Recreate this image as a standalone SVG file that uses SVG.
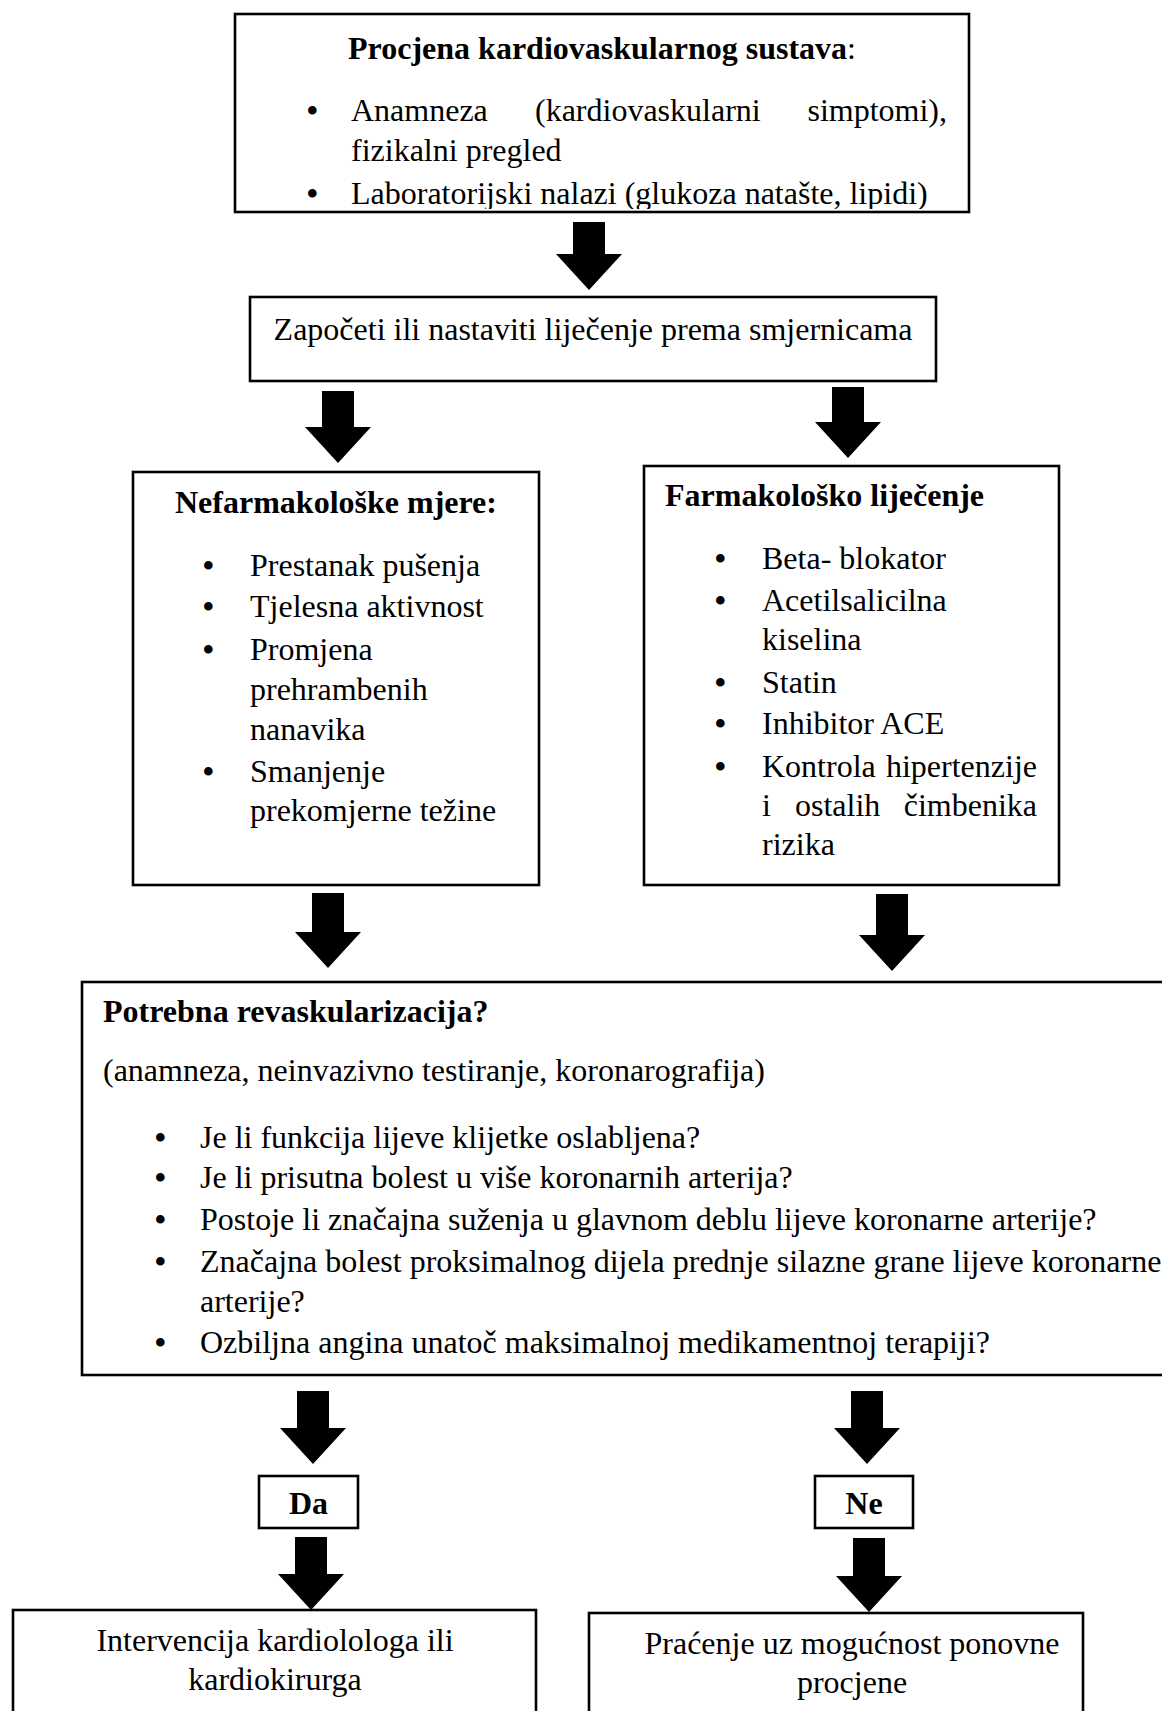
<svg xmlns="http://www.w3.org/2000/svg" width="1162" height="1711" viewBox="0 0 1162 1711">
<style>
.box{fill:#fff;stroke:#000;stroke-width:2.6}
.t{font-family:"Liberation Serif","Times New Roman",serif;font-size:32px;fill:#000}
.bu{font-family:"Liberation Serif","Times New Roman",serif;font-size:36px;fill:#000}
.b{font-weight:bold}
.m{text-anchor:middle}
.e{text-anchor:end}
.arr{fill:#000;stroke:none}
</style>
<defs>
<clipPath id="c1"><rect x="236" y="15" width="732" height="194"/></clipPath>
</defs>
<rect width="1162" height="1711" fill="#fff"/>

<g id="connectors">
<path class="arr" d="M573,222H605V254H622L589,290L556,254H573Z"/>
<path class="arr" d="M322,391H354V427H371L338,463L305,427H322Z"/>
<path class="arr" d="M832,387H864V422H881L848,458L815,422H832Z"/>
<path class="arr" d="M312,893H344V932H361L328,968L295,932H312Z"/>
<path class="arr" d="M876,894H908V935H925L892,971L859,935H876Z"/>
<path class="arr" d="M297,1391H329V1428H346L313,1464L280,1428H297Z"/>
<path class="arr" d="M851,1391H883V1428H900L867,1464L834,1428H851Z"/>
<path class="arr" d="M295,1537H327V1574H344L311,1610L278,1574H295Z"/>
<path class="arr" d="M853,1538H885V1576H902L869,1612L836,1576H853Z"/>
</g>

<g id="n1">
<rect class="box" x="235" y="14" width="734" height="198"/>
<text class="t m" x="602" y="59"><tspan class="b">Procjena kardiovaskularnog sustava</tspan>:</text>
<g clip-path="url(#c1)">
<text class="bu" x="306" y="123">•</text>
<text class="t" x="351" y="121">Anamneza</text>
<text class="t" x="535" y="121">(kardiovaskularni</text>
<text class="t e" x="947" y="121">simptomi),</text>
<text class="t" x="351" y="161">fizikalni pregled</text>
<text class="bu" x="306" y="206">•</text>
<text class="t" x="351" y="204">Laboratorijski nalazi (glukoza natašte, lipidi)</text>
</g>
</g>

<g id="n2">
<rect class="box" x="250" y="297" width="686" height="84"/>
<text class="t m" x="593" y="340">Započeti ili nastaviti liječenje prema smjernicama</text>
</g>

<g id="n3">
<rect class="box" x="133" y="472" width="406" height="413"/>
<text class="t b" x="175" y="513">Nefarmakološke mjere:</text>
<text class="bu" x="202" y="578">•</text>
<text class="t" x="250" y="576">Prestanak pušenja</text>
<text class="bu" x="202" y="619">•</text>
<text class="t" x="250" y="617">Tjelesna aktivnost</text>
<text class="bu" x="202" y="662">•</text>
<text class="t" x="250" y="660">Promjena</text>
<text class="t" x="250" y="700">prehrambenih</text>
<text class="t" x="250" y="740">nanavika</text>
<text class="bu" x="202" y="784">•</text>
<text class="t" x="250" y="782">Smanjenje</text>
<text class="t" x="250" y="821">prekomjerne težine</text>
</g>

<g id="n4">
<rect class="box" x="644" y="466" width="415" height="419"/>
<text class="t b" x="665" y="506">Farmakološko liječenje</text>
<text class="bu" x="714" y="571">•</text>
<text class="t" x="762" y="569">Beta- blokator</text>
<text class="bu" x="714" y="613">•</text>
<text class="t" x="762" y="611">Acetilsalicilna</text>
<text class="t" x="762" y="650">kiselina</text>
<text class="bu" x="714" y="695">•</text>
<text class="t" x="762" y="693">Statin</text>
<text class="bu" x="714" y="736">•</text>
<text class="t" x="762" y="734">Inhibitor ACE</text>
<text class="bu" x="714" y="779">•</text>
<text class="t" x="762" y="777">Kontrola</text>
<text class="t e" x="1037" y="777">hipertenzije</text>
<text class="t" x="762" y="816">i</text>
<text class="t" x="795" y="816">ostalih</text>
<text class="t e" x="1037" y="816">čimbenika</text>
<text class="t" x="762" y="855">rizika</text>
</g>

<g id="n5">
<rect class="box" x="82" y="982" width="1100" height="393"/>
<text class="t b" x="103" y="1022">Potrebna revaskularizacija?</text>
<text class="t" x="103" y="1081">(anamneza, neinvazivno testiranje, koronarografija)</text>
<text class="bu" x="154" y="1150">•</text>
<text class="t" x="200" y="1148">Je li funkcija lijeve klijetke oslabljena?</text>
<text class="bu" x="154" y="1190">•</text>
<text class="t" x="200" y="1188">Je li prisutna bolest u više koronarnih arterija?</text>
<text class="bu" x="154" y="1232">•</text>
<text class="t" x="200" y="1230">Postoje li značajna suženja u glavnom deblu lijeve koronarne arterije?</text>
<text class="bu" x="154" y="1274">•</text>
<text class="t" x="200" y="1272">Značajna bolest proksimalnog dijela prednje silazne grane lijeve koronarne</text>
<text class="t" x="200" y="1312">arterije?</text>
<text class="bu" x="154" y="1355">•</text>
<text class="t" x="200" y="1353">Ozbiljna angina unatoč maksimalnoj medikamentnoj terapiji?</text>
</g>

<g id="n6">
<rect class="box" x="259" y="1476" width="99" height="52"/>
<text class="t b m" x="308.5" y="1514">Da</text>
</g>

<g id="n7">
<rect class="box" x="815" y="1476" width="98" height="52"/>
<text class="t b m" x="864" y="1514">Ne</text>
</g>

<g id="n8">
<rect class="box" x="13" y="1610" width="523" height="120"/>
<text class="t m" x="275" y="1651">Intervencija kardiolologa ili</text>
<text class="t m" x="275" y="1690">kardiokirurga</text>
</g>

<g id="n9">
<rect class="box" x="589" y="1613" width="494" height="120"/>
<text class="t m" x="852" y="1654">Praćenje uz mogućnost ponovne</text>
<text class="t m" x="852" y="1693">procjene</text>
</g>
</svg>
